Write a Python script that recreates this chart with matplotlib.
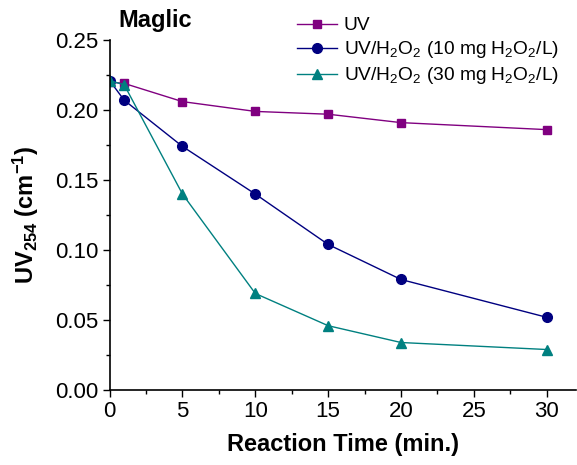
import matplotlib
matplotlib.use("Agg")
import matplotlib.pyplot as plt
from matplotlib.ticker import MultipleLocator

plt.rcParams['font.family'] = ['Liberation Sans', 'DejaVu Sans']
plt.rcParams['mathtext.fontset'] = 'custom'
plt.rcParams['mathtext.rm'] = 'Liberation Sans'
plt.rcParams['mathtext.it'] = 'Liberation Sans:italic'
plt.rcParams['mathtext.bf'] = 'Liberation Sans:bold'

time = [0, 1, 5, 10, 15, 20, 30]
uv = [0.220, 0.219, 0.206, 0.199, 0.197, 0.191, 0.186]
uv_h2o2_10 = [0.221, 0.207, 0.174, 0.140, 0.104, 0.079, 0.052]
uv_h2o2_30 = [0.221, 0.218, 0.140, 0.069, 0.046, 0.034, 0.029]

fig = plt.figure(figsize=(5.77, 4.65), dpi=100)
ax = fig.add_axes([0.19, 0.161, 0.808, 0.753])

ax.plot(time, uv, color='#800080', marker='s', markersize=6, lw=1, label='UV')
ax.plot(time, uv_h2o2_10, color='#000080', marker='o', markersize=7, lw=1,
        label=r'UV/H$_2$O$_2$ (10 mg H$_2$O$_2$/L)')
ax.plot(time, uv_h2o2_30, color='#008080', marker='^', markersize=7.5, lw=1,
        label=r'UV/H$_2$O$_2$ (30 mg H$_2$O$_2$/L)')

ax.set_xlim(0, 32)
ax.set_ylim(0, 0.25)
ax.xaxis.set_major_locator(MultipleLocator(5))
ax.xaxis.set_minor_locator(MultipleLocator(2.5))
ax.yaxis.set_major_locator(MultipleLocator(0.05))
ax.yaxis.set_minor_locator(MultipleLocator(0.025))
ax.yaxis.set_major_formatter(matplotlib.ticker.FormatStrFormatter('%.2f'))
ax.tick_params(which='major', direction='out', length=5, width=1, labelsize=16, pad=3)
ax.tick_params(which='minor', direction='out', length=3, width=1)

for s in ['top', 'right']:
    ax.spines[s].set_visible(False)
for s in ['left', 'bottom']:
    ax.spines[s].set_linewidth(1.2)

ax.set_xlabel('Reaction Time (min.)', fontsize=17, fontweight='bold', labelpad=8)
ax.set_ylabel(r'UV$_{\mathbf{254}}$ (cm$^{\mathbf{-1}}$)', fontsize=17, fontweight='bold', labelpad=10)

fig.text(0.205, 0.955, 'Maglic', fontsize=17, fontweight='bold', va='center')

ax.legend(loc='upper left', bbox_to_anchor=(0.385, 1.088), frameon=False,
          fontsize=13.8, handlelength=2.1, handletextpad=0.35, labelspacing=0.26,
          borderaxespad=0)

fig.savefig('out.png', dpi=100)
